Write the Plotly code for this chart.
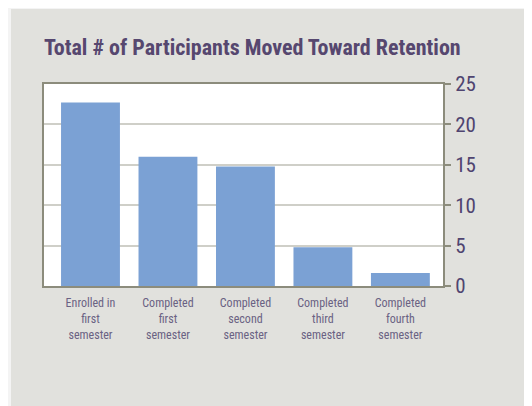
import plotly.graph_objects as go

categories = ["Enrolled in<br>first<br>semester", "Completed<br>first<br>semester",
              "Completed<br>second<br>semester", "Completed<br>third<br>semester",
              "Completed<br>fourth<br>semester"]
participants = [22.7, 16.0, 14.8, 4.8, 1.6]
y_ticks = [0, 5, 10, 15, 20, 25]

font_name = "Roboto Condensed"
purple = "#4f4470"

fig = go.Figure()
fig.add_bar(x=categories, y=participants, marker_color="#7ba1d4",
            marker_line_width=0, hoverinfo="skip")

# page body adds 8px offset; figure runs past the window edge on right/bottom
W, H = 532, 406
l, r, t, b = 36, 97, 76, 128
pw, ph = W - l - r, H - t - b

# light strips round the grey panel (outside the plot area)
strips = [dict(x0=-l/pw - 0.05, x1=(3-l)/pw, y0=-1, y1=2),
          dict(x0=-0.2, x1=1.5, y0=(ph + t - 1)/ph, y1=2)]

fig.update_layout(
    width=W, height=H,
    margin=dict(l=l, r=r, t=t, b=b),
    paper_bgcolor="#e1e1dd",
    plot_bgcolor="white",
    bargap=0.24,
    showlegend=False,
    title=dict(text="<b>Total # of Participants Moved Toward Retention</b>",
               x=l/W, xanchor="left", y=1 - 39/H, yanchor="middle",
               font=dict(family=font_name, size=22, color="#56476f")),
    shapes=[dict(type="rect", xref="paper", yref="paper", layer="below",
                 fillcolor="#f4f4f4", line_width=0, **s) for s in strips],
)
fig.update_xaxes(range=[-0.6, 4.55],
                 showline=True, linecolor="#8c8c7c", linewidth=2, mirror=True,
                 ticks="", automargin=False, ticklabelstandoff=5,
                 tickfont=dict(family=font_name, size=12, color="#6a6283"))
fig.update_yaxes(side="right", range=[0, 25], tickvals=y_ticks,
                 showline=True, linecolor="#8c8c7c", linewidth=2, mirror=True,
                 ticks="outside", ticklen=6, tickcolor="#8c8c7c", tickwidth=2,
                 showgrid=True, gridcolor="#cfcfc8", gridwidth=1.5,
                 zeroline=False, automargin=False,
                 tickfont=dict(family=font_name, size=21, color=purple))

fig.write_html("out.html")
